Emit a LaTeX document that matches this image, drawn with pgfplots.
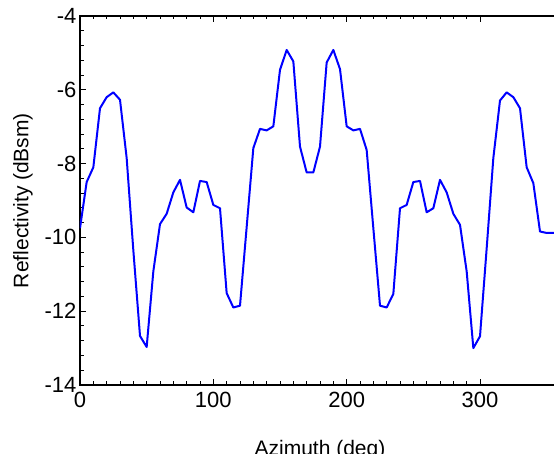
\documentclass[border=0pt]{standalone}
\usepackage{pgfplots}
\pgfplotsset{compat=1.18}
\usepackage{fontspec}
\setmainfont{Liberation Sans}

\pgfplotstableread{
az refl
0 -9.75
5 -8.50
10 -8.10
15 -6.50
20 -6.20
25 -6.07
30 -6.27
35 -7.85
40 -10.35
45 -12.67
50 -12.97
55 -10.92
60 -9.64
65 -9.36
70 -8.78
75 -8.44
80 -9.19
85 -9.32
90 -8.47
95 -8.50
100 -9.12
105 -9.21
110 -11.51
115 -11.90
120 -11.85
125 -9.72
130 -7.58
135 -7.06
140 -7.10
145 -6.99
150 -5.46
155 -4.92
160 -5.23
165 -7.54
170 -8.24
175 -8.24
180 -7.54
185 -5.26
190 -4.92
195 -5.44
200 -6.99
205 -7.10
210 -7.06
215 -7.63
220 -9.75
225 -11.85
230 -11.90
235 -11.53
240 -9.21
245 -9.12
250 -8.50
255 -8.47
260 -9.32
265 -9.21
270 -8.44
275 -8.78
280 -9.36
285 -9.66
290 -10.92
295 -13.00
300 -12.68
305 -10.30
310 -7.85
315 -6.29
320 -6.07
325 -6.20
330 -6.50
335 -8.10
340 -8.53
345 -9.84
350 -9.88
355 -9.88
360 -9.88
}\reflectivity

\begin{document}
\begin{tikzpicture}
\useasboundingbox (-80pt,-69pt) rectangle (474pt,385pt);
\clip (-80pt,-69pt) rectangle (474pt,385pt);
\begin{axis}[
  at={(0,0)}, anchor=south west,
  scale only axis,
  width=480pt, height=369pt,
  xmin=0, xmax=360, ymin=-14, ymax=-4,
  xtick={0,100,200,300}, ytick={-14,-12,...,-4},
  minor x tick num=9, minor y tick num=4,
  tick align=inside,
  xtick pos=both, ytick pos=both,
  xticklabel pos=lower, yticklabel pos=left,
  major tick length=6pt, minor tick length=3.5pt,
  every tick/.style={black, line width=1pt},
  axis line style={black, line width=1.8pt},
  /pgf/number format/assume math mode=true,
  tick label style={font=\fontsize{22}{26}\selectfont},
  xticklabel style={yshift=-4pt},
  label style={font=\fontsize{21}{25}\selectfont},
  xlabel={Azimuth (deg)},
  ylabel={Reflectivity (dBsm)},
  xlabel style={yshift=-25pt},
  ylabel style={yshift=5pt},
]
\addplot[blue, line width=2pt, line join=round] table[x=az, y=refl] {\reflectivity};
\end{axis}
\end{tikzpicture}
\end{document}
